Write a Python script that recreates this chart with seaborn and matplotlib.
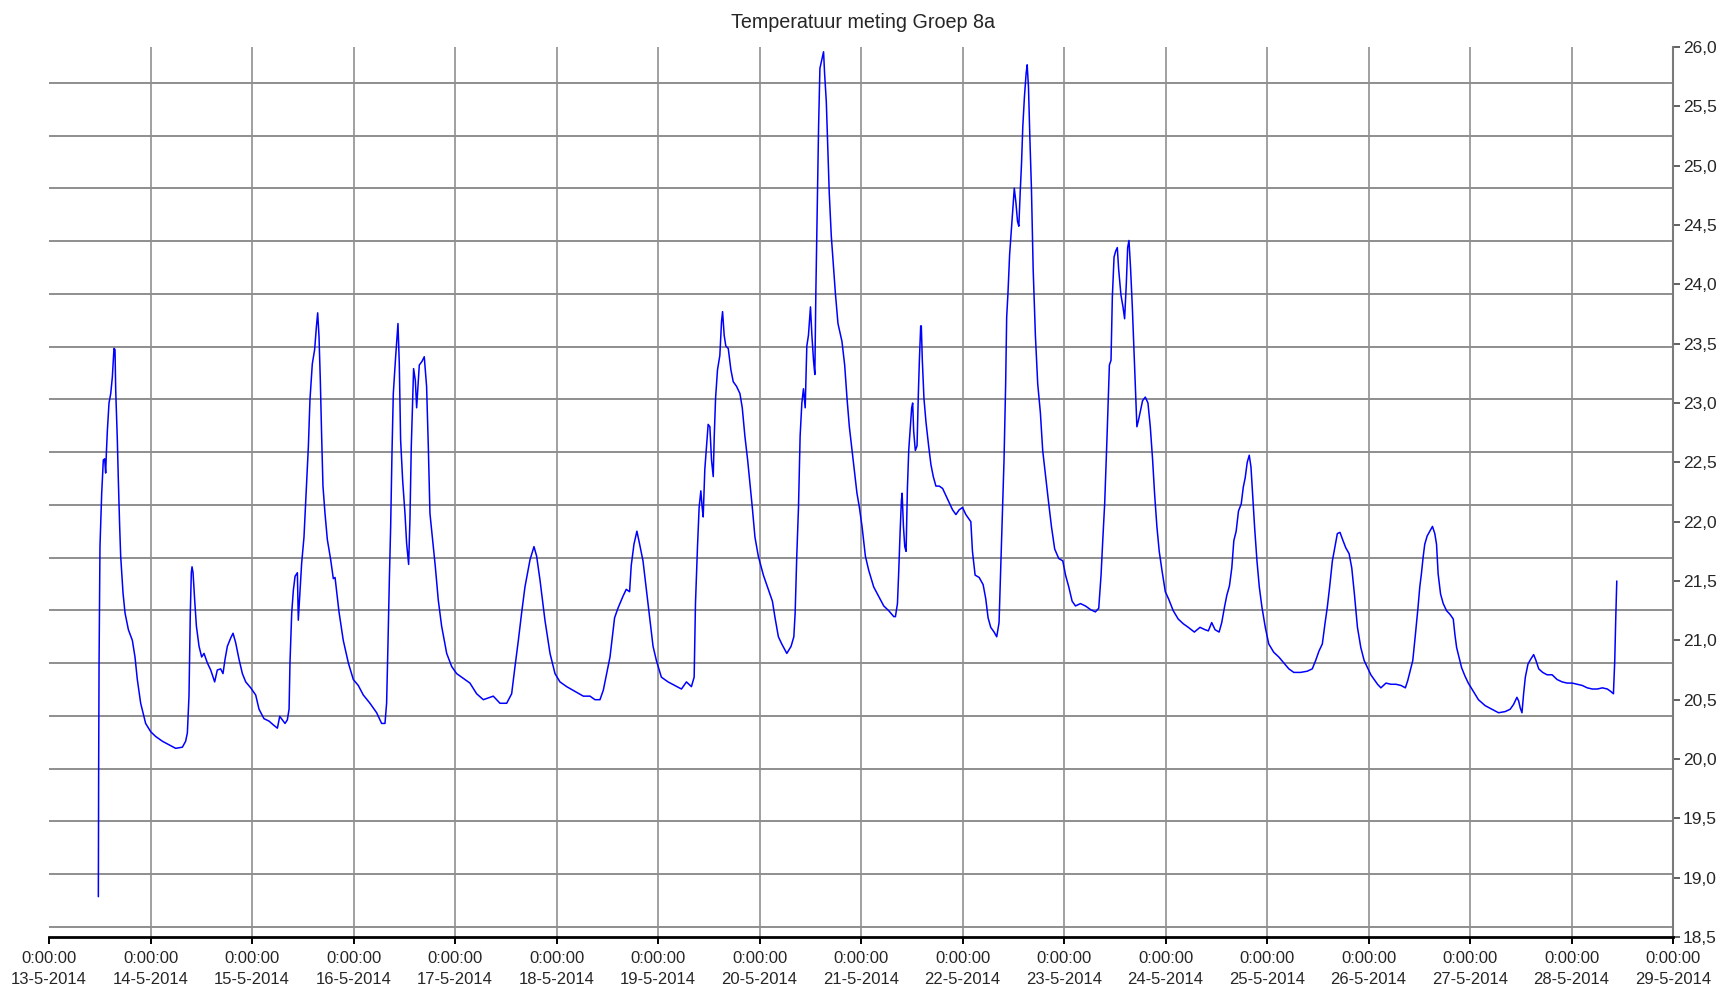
import numpy as np
import pandas as pd
import matplotlib
matplotlib.use('Agg')
import matplotlib.pyplot as plt
import seaborn as sns

# tijd in dagen sinds 13-5-2014 0:00:00, temperatuur in graden C
tijd = [
    0.486, 0.489, 0.493, 0.502, 0.519, 0.535, 0.548, 0.558, 0.565, 0.575, 0.591, 0.608, 0.624, 0.640, 0.650,
    0.657, 0.673, 0.683, 0.696, 0.706, 0.729, 0.749, 0.782, 0.821, 0.847, 0.870, 0.903, 0.952, 1.002, 1.051,
    1.117, 1.182, 1.248, 1.314, 1.346, 1.363, 1.379, 1.392, 1.402, 1.409, 1.419, 1.435, 1.452, 1.478, 1.504,
    1.527, 1.560, 1.593, 1.632, 1.658, 1.691, 1.714, 1.734, 1.757, 1.790, 1.813, 1.839, 1.872, 1.905, 1.938,
    1.987, 2.036, 2.069, 2.118, 2.167, 2.207, 2.250, 2.273, 2.299, 2.325, 2.348, 2.365, 2.374, 2.391, 2.407,
    2.424, 2.447, 2.456, 2.470, 2.489, 2.512, 2.535, 2.555, 2.571, 2.594, 2.617, 2.634, 2.647, 2.660, 2.673,
    2.686, 2.699, 2.719, 2.742, 2.775, 2.801, 2.818, 2.844, 2.857,
    2.899, 2.949, 2.998, 3.047, 3.096, 3.162, 3.228, 3.277, 3.310, 3.326, 3.339, 3.353, 3.366, 3.379, 3.392,
    3.415, 3.438, 3.451, 3.464, 3.484, 3.507, 3.523, 3.543, 3.556, 3.569, 3.583, 3.592, 3.609, 3.622, 3.638,
    3.648, 3.674, 3.697, 3.720, 3.737, 3.753, 3.779, 3.806, 3.835, 3.868, 3.918, 3.967, 4.016, 4.082, 4.147,
    4.213, 4.279, 4.377, 4.443, 4.509, 4.558, 4.591, 4.624, 4.656, 4.689, 4.739, 4.778, 4.804, 4.837, 4.886,
    4.936, 4.985, 5.034, 5.100, 5.182, 5.264, 5.330, 5.379, 5.428, 5.461, 5.494, 5.527,
    5.572, 5.605, 5.654, 5.687, 5.720, 5.736, 5.763, 5.792, 5.819, 5.852, 5.885, 5.918, 5.951, 5.984, 6.033,
    6.099, 6.165, 6.231, 6.280, 6.329, 6.356, 6.369, 6.389, 6.405, 6.422, 6.435, 6.445, 6.461, 6.478, 6.494,
    6.511, 6.527, 6.544, 6.554, 6.567, 6.586, 6.609, 6.626, 6.636, 6.652, 6.668, 6.692, 6.718, 6.741, 6.774,
    6.807, 6.830, 6.856, 6.883, 6.906, 6.929, 6.955, 6.988, 7.038, 7.087, 7.127, 7.153, 7.186, 7.219, 7.269,
    7.311, 7.338, 7.351, 7.367, 7.384, 7.400, 7.417, 7.433, 7.450, 7.466, 7.482, 7.502, 7.516, 7.532, 7.545,
    7.555, 7.568, 7.582, 7.595, 7.615, 7.631, 7.641, 7.658, 7.674, 7.687, 7.707, 7.730, 7.747, 7.773, 7.812,
    7.839, 7.862, 7.885, 7.912, 7.938, 7.960, 7.984, 8.010, 8.043, 8.076, 8.125, 8.175, 8.224, 8.273, 8.323,
    8.339, 8.359, 8.372, 8.385, 8.398, 8.405, 8.418, 8.431, 8.444, 8.457, 8.470, 8.486, 8.499, 8.509, 8.519,
    8.535, 8.552, 8.565, 8.575, 8.588, 8.594, 8.604, 8.620, 8.640, 8.666, 8.689, 8.712, 8.738, 8.771, 8.804,
    8.836, 8.869, 8.902, 8.935, 8.967, 9.000, 9.033, 9.065, 9.082, 9.098, 9.124, 9.164, 9.203, 9.229, 9.252,
    9.278, 9.311, 9.337, 9.360, 9.376, 9.393, 9.409, 9.425, 9.435, 9.448, 9.464, 9.481, 9.497, 9.510, 9.526,
    9.542, 9.555, 9.568, 9.581, 9.594, 9.610, 9.627, 9.637, 9.650, 9.663, 9.679, 9.696, 9.718, 9.741, 9.767,
    9.790, 9.816, 9.843, 9.876, 9.908, 9.948, 9.988, 10.015, 10.047, 10.080, 10.113, 10.162, 10.211, 10.260,
    10.309, 10.342, 10.365, 10.381, 10.401, 10.424, 10.447, 10.463, 10.476, 10.493, 10.509, 10.525, 10.538,
    10.561, 10.581, 10.597, 10.614, 10.627, 10.640, 10.656, 10.673, 10.686, 10.702, 10.718, 10.735, 10.755,
    10.774, 10.801, 10.827, 10.850, 10.873, 10.892, 10.915, 10.938, 10.965, 10.998, 11.030,
    11.076, 11.125, 11.175, 11.224, 11.284, 11.340, 11.389, 11.422, 11.455, 11.488, 11.528, 11.554, 11.581,
    11.604, 11.630, 11.653, 11.673, 11.696, 11.719, 11.746, 11.766, 11.785, 11.805, 11.825, 11.842, 11.858,
    11.878, 11.901, 11.924, 11.950, 11.983, 12.017, 12.066, 12.116, 12.165, 12.215, 12.264, 12.330, 12.396,
    12.446, 12.479, 12.512, 12.545, 12.571, 12.594, 12.617, 12.644, 12.667, 12.693, 12.719, 12.749, 12.776,
    12.809, 12.835, 12.861, 12.891, 12.924, 12.957, 12.990, 13.023, 13.056, 13.089, 13.122, 13.172, 13.221,
    13.271, 13.320, 13.363, 13.386, 13.409, 13.436, 13.462,
    13.488, 13.505, 13.521, 13.538, 13.554, 13.578, 13.604, 13.630, 13.653, 13.670, 13.686, 13.710, 13.736,
    13.769, 13.802, 13.835, 13.851, 13.868, 13.891, 13.917, 13.950, 13.983, 14.033, 14.083, 14.149, 14.215,
    14.281, 14.347, 14.396, 14.429, 14.462, 14.479, 14.495, 14.512, 14.528, 14.545, 14.571, 14.597, 14.627,
    14.650, 14.677, 14.716, 14.759, 14.809, 14.858, 14.908, 14.957, 15.007, 15.056, 15.106, 15.155, 15.205,
    15.254, 15.304, 15.353, 15.386, 15.413, 15.426, 15.436, 15.446,
]
temperatuur = [
    18.84, 19.90, 20.81, 21.79, 22.24, 22.52, 22.53, 22.41, 22.58, 22.77, 23.00, 23.08, 23.22, 23.46, 23.45,
    23.11, 22.69, 22.35, 21.96, 21.71, 21.40, 21.23, 21.09, 21.00, 20.86, 20.67, 20.47, 20.30, 20.23, 20.19,
    20.15, 20.12, 20.09, 20.10, 20.15, 20.22, 20.53, 21.23, 21.57, 21.62, 21.57, 21.34, 21.12, 20.95, 20.86,
    20.89, 20.81, 20.75, 20.65, 20.75, 20.76, 20.72, 20.84, 20.95, 21.02, 21.06, 20.98, 20.84, 20.72, 20.65,
    20.60, 20.54, 20.42, 20.34, 20.32, 20.29, 20.26, 20.36, 20.33, 20.30, 20.33, 20.42, 20.81, 21.23, 21.42,
    21.54, 21.57, 21.17, 21.37, 21.65, 21.87, 22.27, 22.63, 23.03, 23.33, 23.45, 23.64, 23.76, 23.56, 23.19,
    22.72, 22.30, 22.07, 21.85, 21.68, 21.52, 21.53, 21.34, 21.24,
    21.00, 20.81, 20.67, 20.62, 20.54, 20.47, 20.39, 20.30, 20.30, 20.47, 20.95, 21.51, 21.96, 22.58, 23.08,
    23.39, 23.67, 23.33, 22.69, 22.35, 22.07, 21.82, 21.64, 22.02, 22.63, 23.05, 23.29, 23.19, 22.96, 23.19,
    23.32, 23.35, 23.39, 23.14, 22.63, 22.07, 21.85, 21.62, 21.34, 21.12, 20.89, 20.78, 20.72, 20.68, 20.64,
    20.55, 20.50, 20.53, 20.47, 20.47, 20.55, 20.78, 21.00, 21.23, 21.45, 21.68, 21.79, 21.71, 21.51, 21.17,
    20.89, 20.72, 20.65, 20.61, 20.57, 20.53, 20.53, 20.50, 20.50, 20.58, 20.72, 20.86,
    21.19, 21.27, 21.37, 21.43, 21.41, 21.63, 21.81, 21.92, 21.81, 21.67, 21.43, 21.19, 20.95, 20.83, 20.69,
    20.65, 20.62, 20.59, 20.65, 20.61, 20.69, 21.31, 21.79, 22.12, 22.26, 22.12, 22.04, 22.44, 22.64, 22.82,
    22.80, 22.52, 22.38, 22.72, 23.04, 23.28, 23.40, 23.69, 23.77, 23.57, 23.48, 23.46, 23.28, 23.18, 23.14,
    23.08, 22.96, 22.72, 22.52, 22.32, 22.12, 21.87, 21.71, 21.55, 21.43, 21.33, 21.19, 21.03, 20.97, 20.89,
    20.95, 21.03, 21.23, 21.71, 22.12, 22.72, 23.00, 23.12, 22.96, 23.48, 23.57, 23.81, 23.57, 23.36, 23.24,
    23.93, 24.61, 25.33, 25.82, 25.90, 25.96, 25.78, 25.54, 25.13, 24.77, 24.41, 24.13, 23.93, 23.67, 23.52,
    23.32, 23.04, 22.80, 22.60, 22.40, 22.24, 22.12, 21.96, 21.71, 21.59, 21.45, 21.37, 21.29, 21.25, 21.20,
    21.20, 21.31, 21.59, 21.91, 22.18, 22.24, 21.96, 21.79, 21.75, 22.28, 22.60, 22.80, 22.96, 23.00, 22.76,
    22.60, 22.64, 23.08, 23.36, 23.65, 23.65, 23.36, 23.04, 22.84, 22.64, 22.48, 22.38, 22.30, 22.30, 22.28,
    22.22, 22.16, 22.10, 22.06, 22.10, 22.12, 22.06, 22.02, 22.00, 21.75, 21.55, 21.53, 21.47, 21.35, 21.19,
    21.11, 21.07, 21.03, 21.15, 21.59, 22.08, 22.52, 23.16, 23.72, 23.93, 24.25, 24.45, 24.65, 24.81, 24.69,
    24.53, 24.49, 24.77, 25.01, 25.33, 25.58, 25.78, 25.85, 25.66, 25.25, 24.81, 24.13, 23.57, 23.16, 22.92,
    22.60, 22.40, 22.20, 21.96, 21.77, 21.69, 21.67, 21.55, 21.45, 21.33, 21.29, 21.31, 21.29, 21.26,
    21.24, 21.27, 21.55, 21.83, 22.16, 22.72, 23.32, 23.36, 23.89, 24.23, 24.28, 24.31, 24.13,
    23.91, 23.81, 23.71, 24.01, 24.31, 24.37, 24.13, 23.81, 23.52, 23.16, 22.80, 22.86, 22.94,
    23.02, 23.05, 23.00, 22.80, 22.52, 22.24, 21.96, 21.75, 21.59, 21.41, 21.35,
    21.25, 21.18, 21.14, 21.11, 21.07, 21.11, 21.09, 21.08, 21.15, 21.09, 21.07, 21.15, 21.28,
    21.38, 21.46, 21.61, 21.84, 21.92, 22.09, 22.15, 22.29, 22.37, 22.50, 22.56, 22.46, 22.23,
    21.95, 21.67, 21.45, 21.28, 21.11, 20.97, 20.90, 20.86, 20.81, 20.76, 20.73, 20.73, 20.74,
    20.76, 20.83, 20.91, 20.97, 21.14, 21.28, 21.45, 21.67, 21.78, 21.90, 21.91, 21.84, 21.78,
    21.73, 21.61, 21.39, 21.11, 20.94, 20.83, 20.77, 20.71, 20.67, 20.63, 20.60, 20.64, 20.63,
    20.63, 20.62, 20.60, 20.66, 20.74, 20.83, 21.05,
    21.28, 21.45, 21.56, 21.70, 21.81, 21.88, 21.92, 21.96, 21.90, 21.81, 21.56, 21.39, 21.31,
    21.25, 21.22, 21.18, 21.05, 20.94, 20.86, 20.77, 20.70, 20.64, 20.57, 20.50, 20.45, 20.42,
    20.39, 20.40, 20.42, 20.46, 20.52, 20.49, 20.43, 20.39, 20.55, 20.69, 20.80, 20.84, 20.88,
    20.83, 20.76, 20.73, 20.71, 20.71, 20.67, 20.65, 20.64, 20.64, 20.63, 20.62, 20.60, 20.59,
    20.59, 20.60, 20.59, 20.57, 20.55, 20.83, 21.19, 21.50,
]
datums = ['13-5-2014', '14-5-2014', '15-5-2014', '16-5-2014', '17-5-2014', '18-5-2014',
          '19-5-2014', '20-5-2014', '21-5-2014', '22-5-2014', '23-5-2014', '24-5-2014',
          '25-5-2014', '26-5-2014', '27-5-2014', '28-5-2014', '29-5-2014']
y_waarden = [18.5, 19.0, 19.5, 20.0, 20.5, 21.0, 21.5, 22.0, 22.5, 23.0, 23.5, 24.0, 24.5, 25.0, 25.5, 26.0]

sns.set_style('white')
plt.rcParams['font.family'] = ['Liberation Sans Narrow', 'Liberation Sans', 'DejaVu Sans']

fig = plt.figure(figsize=(17.26, 9.94), dpi=100)
ax = fig.add_axes([0.0284, 0.0573, 0.9409, 0.8954])

df = pd.DataFrame({'dag': tijd, 'temp': temperatuur})
sns.lineplot(data=df, x='dag', y='temp', ax=ax, color='#0000ff', lw=1.1,
             estimator=None, sort=False)

# rasterlijnen
for d in range(1, 16):
    ax.axvline(d, color='#a0a0a0', lw=1.4, zorder=0)
for yv in np.linspace(18.585, 25.697, 17):
    ax.axhline(yv, color='#8e8e8e', lw=1.4, zorder=0)

ax.set_xlim(0, 16)
ax.set_ylim(18.5, 26)
ax.set_xticks(range(len(datums)))
ax.set_xticklabels(['0:00:00\n' + d for d in datums], linespacing=1.5)
ax.yaxis.tick_right()
ax.set_yticks(y_waarden)
ax.set_yticklabels([f'{v:.1f}'.replace('.', ',') for v in y_waarden])
ax.set_xlabel('')
ax.set_ylabel('')

for s in ['top', 'left']:
    ax.spines[s].set_visible(False)
ax.spines['right'].set_color('#7a7a7a')
ax.spines['right'].set_linewidth(1.5)
ax.spines['bottom'].set_color('black')
ax.spines['bottom'].set_linewidth(2)

ax.tick_params(axis='x', bottom=True, direction='out', length=5, width=1.4,
               color='black', labelsize=12, pad=5)
ax.tick_params(axis='y', right=True, left=False, direction='out', length=5,
               width=1.3, color='#555555', labelsize=12.5, pad=2)

fig.text(0.5, 1 - 22 / 994, 'Temperatuur meting Groep 8a', ha='center', va='center', fontsize=14.2)

fig.savefig('out.png', dpi=100)
